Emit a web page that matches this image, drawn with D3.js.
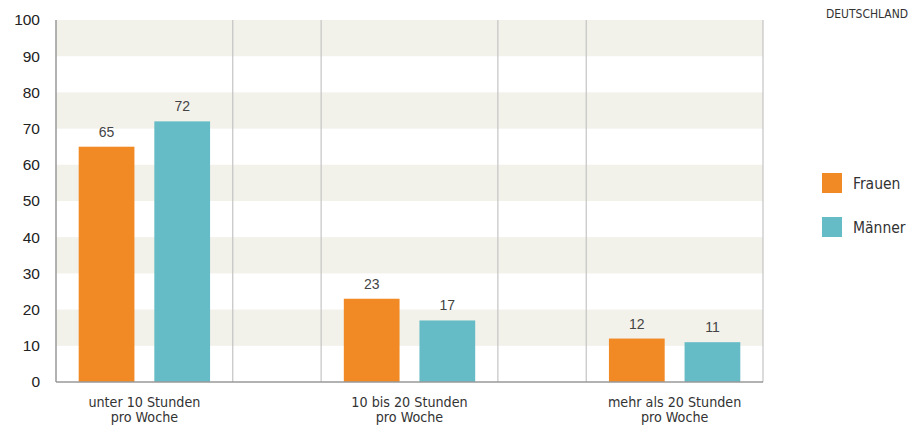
<!DOCTYPE html>
<html>
<head>
<meta charset="utf-8">
<script src="https://cdn.jsdelivr.net/npm/d3@7"></script>
<style>
  body { margin: 0; background: #fff; }
  svg { display: block; }
  .cond { font-family: "DejaVu Sans Condensed", "Liberation Sans Narrow", "Roboto", sans-serif; font-stretch: condensed; }
</style>
</head>
<body>
<svg id="chart" width="916" height="425"></svg>
<script>
const categories = [["unter 10 Stunden", "pro Woche"], ["10 bis 20 Stunden", "pro Woche"], ["mehr als 20 Stunden", "pro Woche"]];
const seriesNames = ["Frauen", "Männer"];
const frauen = [65, 23, 12];
const maenner = [72, 17, 11];
const yTicks = [0, 10, 20, 30, 40, 50, 60, 70, 80, 90, 100];
const colors = ["#F18A25", "#66BCC6"];

(function () {
const svg = d3.select("#chart");
const mLeft = 56, mRight = 763, mTop = 20, mBottom = 382;

const catKeys = categories.map(c => c.join(" "));
const x = d3.scaleBand().domain(catKeys).range([mLeft, mRight]).paddingInner(1/3).paddingOuter(0);
const xs = d3.scaleBand().domain(seriesNames).range([0, x.bandwidth()]).paddingInner(0.263).paddingOuter(0.3);
const y = d3.scaleLinear().domain([0, 100]).range([mBottom, mTop]);

// alternating bands
const bandPairs = [[10,20],[30,40],[50,60],[70,80],[90,100]];
svg.append("g").selectAll("rect").data(bandPairs).join("rect")
  .attr("x", mLeft).attr("width", mRight - mLeft)
  .attr("y", d => y(d[1])).attr("height", d => y(d[0]) - y(d[1]))
  .attr("fill", "#F2F1EA");

// vertical separators at band edges
const edges = [];
catKeys.forEach(k => { edges.push(x(k)); edges.push(x(k) + x.bandwidth()); });
svg.append("g").selectAll("line").data(edges.slice(1)).join("line")
  .attr("x1", d => d).attr("x2", d => d)
  .attr("y1", mTop).attr("y2", mBottom)
  .attr("stroke", "#c4c4c4").attr("stroke-width", 1.2);

// bars
const data = [];
catKeys.forEach((k, i) => {
  data.push({cat: k, s: seriesNames[0], v: frauen[i], c: colors[0]});
  data.push({cat: k, s: seriesNames[1], v: maenner[i], c: colors[1]});
});
svg.append("g").selectAll("rect").data(data).join("rect")
  .attr("x", d => x(d.cat) + xs(d.s))
  .attr("width", xs.bandwidth())
  .attr("y", d => y(d.v))
  .attr("height", d => y(0) - y(d.v))
  .attr("fill", d => d.c);

svg.append("g").selectAll("text").data(data).join("text")
  .attr("x", d => x(d.cat) + xs(d.s) + xs.bandwidth() / 2)
  .attr("y", d => y(d.v) - 10)
  .attr("text-anchor", "middle")
  .attr("font-family", "Liberation Sans, Arial, sans-serif")
  .attr("font-size", 14)
  .attr("fill", "#444")
  .text(d => d.v);

// axes lines
svg.append("line").attr("x1", mLeft).attr("x2", mLeft).attr("y1", mTop).attr("y2", mBottom)
  .attr("stroke", "#999").attr("stroke-width", 1.5);
svg.append("line").attr("x1", mLeft).attr("x2", mRight).attr("y1", mBottom).attr("y2", mBottom)
  .attr("stroke", "#999").attr("stroke-width", 1.5);

// y tick labels
svg.append("g").selectAll("text").data(yTicks).join("text")
  .attr("x", 40).attr("y", d => y(d))
  .attr("dy", "0.35em")
  .attr("text-anchor", "end")
  .attr("font-family", "Liberation Sans, Arial, sans-serif")
  .attr("font-size", 15.5)
  .attr("fill", "#222")
  .text(d => d);

// category labels (one text element per category, two lines as tspans)
svg.append("g").selectAll("text").data(categories).join("text")
  .attr("class", "cond")
  .attr("text-anchor", "middle")
  .attr("font-size", 14.2)
  .attr("fill", "#333")
  .each(function(d, i) {
    const cx = x(catKeys[i]) + x.bandwidth() / 2;
    d3.select(this).selectAll("tspan").data(d).join("tspan")
      .attr("x", cx)
      .attr("y", (t, j) => 406.5 + j * 15.2)
      .text(t => t);
  });

// legend
const leg = svg.append("g").selectAll("g").data(seriesNames).join("g")
  .attr("transform", (d, i) => `translate(822, ${173 + i * 44})`);
leg.append("rect").attr("width", 20).attr("height", 20).attr("fill", (d, i) => colors[i]);
leg.append("text").attr("class", "cond")
  .attr("transform", "translate(31,0) scale(0.94,1)")
  .attr("y", 10).attr("dy", "0.37em")
  .attr("font-size", 16.5).attr("fill", "#333")
  .text(d => d);

// source mark
svg.append("text").attr("class", "cond")
  .attr("x", 826).attr("y", 18)
  .attr("textLength", 82).attr("lengthAdjust", "spacingAndGlyphs")
  .attr("font-size", 12.5).attr("fill", "#333")
  .text("DEUTSCHLAND");
})();
</script>
</body>
</html>
